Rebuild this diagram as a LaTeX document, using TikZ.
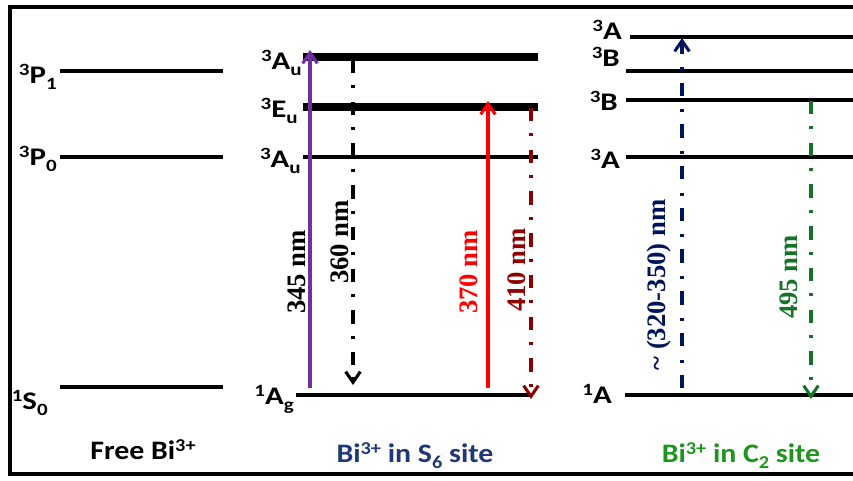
\documentclass[tikz,border=0pt]{standalone}
\usepackage{fontspec}
\setmainfont{Carlito}[FakeStretch=1.12]
\newfontfamily\lvfont{Carlito}[FakeStretch=1.22]
\newfontfamily\nmfont{Liberation Serif}
\usetikzlibrary{arrows.meta}

\definecolor{bipurple}{RGB}{112,48,160}
\definecolor{bidarkred}{RGB}{140,0,0}
\definecolor{binavy}{RGB}{0,20,90}
\definecolor{sixblue}{RGB}{31,56,120}
\definecolor{bigreen}{RGB}{20,115,40}
\definecolor{twogreen}{RGB}{30,150,30}

\makeatletter
\newcommand{\sups}[1]{\raisebox{0.3em}{\fontsize{\fpeval{0.68*\f@size}}{0}\selectfont #1}}
\newcommand{\subs}[1]{\raisebox{-0.24em}{\fontsize{\fpeval{0.68*\f@size}}{0}\selectfont #1}}
\makeatother
\newcommand{\lv}[3]{\sups{#1}#2\subs{#3}}

\begin{document}
\begin{tikzpicture}[x=0.75pt, y=-0.75pt,
    level/.style={line width=2.3pt},
    thicklevel/.style={line width=6pt},
    lbl/.style={font=\lvfont\fontsize{19}{21}\selectfont\bfseries, anchor=base east, inner sep=0pt},
    site/.style={font=\fontsize{20}{24}\selectfont\bfseries, anchor=base, inner sep=0pt},
    wave/.style={font=\nmfont\fontsize{20}{24}\selectfont\bfseries, rotate=90, inner sep=0pt},
    excite/.style={-{Straight Barb[length=8pt,width=11pt]}, line width=2.3pt},
    emit/.style={excite, dash pattern=on 10pt off 9pt on 2.3pt off 10pt}
]
\useasboundingbox (0,0) rectangle (853,480);

% Frame
\draw[line width=2.3pt] (870,7) -| (10,474) -- (870,474);

% Free ion levels
\draw[level] (60,71) -- (223,71);
\draw[level] (60,157) -- (223,157);
\draw[level] (60,387) -- (223,387);
\node[lbl] (fP1) at (57,83) {\lv{3}{P}{1}};
\node[lbl] (fP0) at (57,165) {\lv{3}{P}{0}};
\node[lbl] (fS0) at (48,409) {\lv{1}{S}{0}};

% S6 site levels
\draw[thicklevel] (303,57) -- (538,57);
\draw[thicklevel] (303,107) -- (538,107);
\draw[level] (303,157) -- (538,157);
\draw[level] (296,395) -- (532,395);
\node[lbl] (sAu2) at (302,69) {\lv{3}{A}{u}};
\node[lbl] (sEu) at (298,117) {\lv{3}{E}{u}};
\node[lbl] (sAu1) at (301,167) {\lv{3}{A}{u}};
\node[lbl] (sAg) at (294,404) {\lv{1}{A}{g}};

% C2 site levels
\draw[line width=3pt] (630,37) -- (860,37);
\draw[line width=3pt] (626,71) -- (860,71);
\draw[line width=3pt] (626,100) -- (860,100);
\draw[level] (626,157) -- (860,157);
\draw[level] (625,395) -- (860,395);
\node[lbl] (cA2) at (622,39) {\sups{3}A};
\node[lbl] (cB2) at (620,66) {\sups{3}B};
\node[lbl] (cB1) at (618,110) {\sups{3}B};
\node[lbl] (cA1) at (620,168) {\sups{3}A};
\node[lbl] (cA0) at (612,403) {\sups{1}A};

% Arrow ends
\coordinate (a345) at (310,388);  \coordinate (b345) at (310,50);
\coordinate (a360) at (353,60);   \coordinate (b360) at (353,385);
\coordinate (a370) at (488,388);  \coordinate (b370) at (488,101);
\coordinate (a410) at (531,108);  \coordinate (b410) at (531,399);
\coordinate (a320) at (682,388);  \coordinate (b320) at (682,38);
\coordinate (a495) at (811,101);  \coordinate (b495) at (811,399);

% Arrows
\draw[excite, bipurple] (a345) -- (b345);
\draw[emit, black] (a360) -- (b360);
\draw[excite, red] (a370) -- (b370);
\draw[emit, bidarkred] (a410) -- (b410);
\draw[emit, binavy] (a320) -- (b320);
\draw[emit, bigreen] (a495) -- (b495);

% Wavelengths
\node[wave] (w345) at (297,272) {345 nm};
\node[wave] (w360) at (340,242) {360 nm};
\node[wave, red] (w370) at (469,272) {370 nm};
\node[wave, bidarkred] (w410) at (517,270) {410 nm};
\node[wave, binavy] (w320) at (659,285) {\textasciitilde\ (320-350) nm};
\node[wave, bigreen] (w495) at (789,277) {495 nm};

% Site names
\node[site] (free) at (143,459) {Free Bi\sups{3+}};
\node[site, sixblue] (six) at (415,462) {Bi\sups{3+} in S\subs{6} site};
\node[site, twogreen] (two) at (741,462) {Bi\sups{3+} in C\subs{2} site};

\end{tikzpicture}
\end{document}
